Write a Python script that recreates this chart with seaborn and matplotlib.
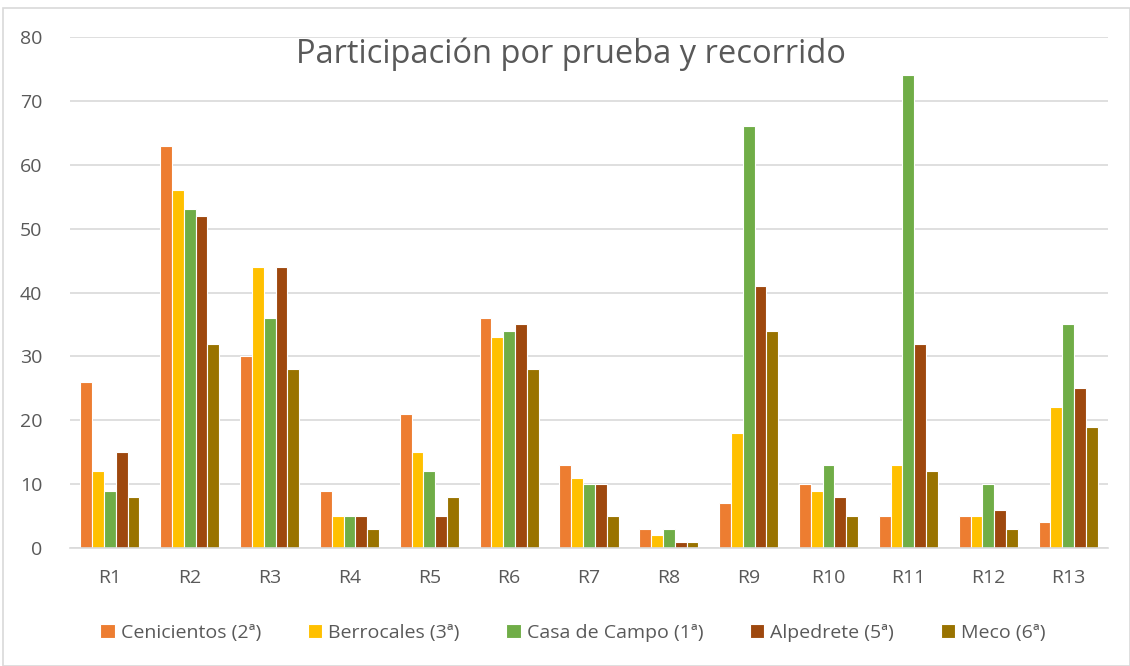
import matplotlib
matplotlib.use("Agg")
import matplotlib.pyplot as plt
import seaborn as sns
import pandas as pd
from matplotlib.patches import Rectangle

categories = ["R1", "R2", "R3", "R4", "R5", "R6", "R7", "R8", "R9", "R10", "R11", "R12", "R13"]
series_names = ["Cenicientos (2ª)", "Berrocales (3ª)", "Casa de Campo (1ª)", "Alpedrete (5ª)", "Meco (6ª)"]
cenicientos = [26, 63, 30, 9, 21, 36, 13, 3, 7, 10, 5, 5, 4]
berrocales = [12, 56, 44, 5, 15, 33, 11, 2, 18, 9, 13, 5, 22]
casa_de_campo = [9, 53, 36, 5, 12, 34, 10, 3, 66, 13, 74, 10, 35]
alpedrete = [15, 52, 44, 5, 5, 35, 10, 1, 41, 8, 32, 6, 25]
meco = [8, 32, 28, 3, 8, 28, 5, 1, 34, 5, 12, 3, 19]
colors = ["#ED7D31", "#FFC000", "#70AD47", "#9E480E", "#997300"]
title = "Participación por prueba y recorrido"
yticks = [0, 10, 20, 30, 40, 50, 60, 70, 80]

all_series = [cenicientos, berrocales, casa_de_campo, alpedrete, meco]
rows = []
for name, vals in zip(series_names, all_series):
    for c, v in zip(categories, vals):
        rows.append({"Recorrido": c, "Serie": name, "Valor": v})
df = pd.DataFrame(rows)

sns.set_theme(style="white")
plt.rcParams["font.family"] = ["Open Sans", "DejaVu Sans"]

fig = plt.figure(figsize=(11.3, 6.66), dpi=100)
ax = fig.add_axes([70 / 1130, 1 - 548 / 666, (1108 - 70) / 1130, (548 - 37) / 666])

sns.barplot(data=df, x="Recorrido", y="Valor", hue="Serie", order=categories,
            hue_order=series_names, palette=colors, saturation=1, width=0.74,
            edgecolor="white", linewidth=0.8, ax=ax, legend=True)

ax.set_ylim(0, 80)
ax.set_yticks(yticks)
ax.set_xlim(-0.5, len(categories) - 0.5)
ax.yaxis.grid(True, color="#D9D9D9", linewidth=1.2)
ax.set_axisbelow(True)
for s in ["left", "right", "top"]:
    ax.spines[s].set_visible(False)
ax.spines["bottom"].set_color("#D9D9D9")
ax.spines["bottom"].set_linewidth(1.2)
ax.tick_params(axis="both", length=0, labelsize=14, colors="#595959")
ax.tick_params(axis="y", pad=20)
ax.tick_params(axis="x", pad=15)
ax.set_xlabel("")
ax.set_ylabel("")

fig.text(571 / 1130, 1 - 54 / 666, title, ha="center", va="center",
         fontsize=23.5, color="#595959")

handles, labels = ax.get_legend_handles_labels()
ax.legend(handles, labels, loc="center", bbox_to_anchor=(573 / 1130, 1 - 633 / 666),
          bbox_transform=fig.transFigure, ncol=5, frameon=False,
          fontsize=14, labelcolor="#595959", handlelength=0.75, handleheight=0.75,
          handletextpad=0.3, columnspacing=2.4)

fig.patches.append(Rectangle((3 / 1130, 0.0), 1 - 3 / 1130, 1 - 8 / 666,
                             transform=fig.transFigure, fill=False,
                             edgecolor="#D9D9D9", linewidth=1.2))

fig.savefig("out.png", dpi=100, facecolor="white")
